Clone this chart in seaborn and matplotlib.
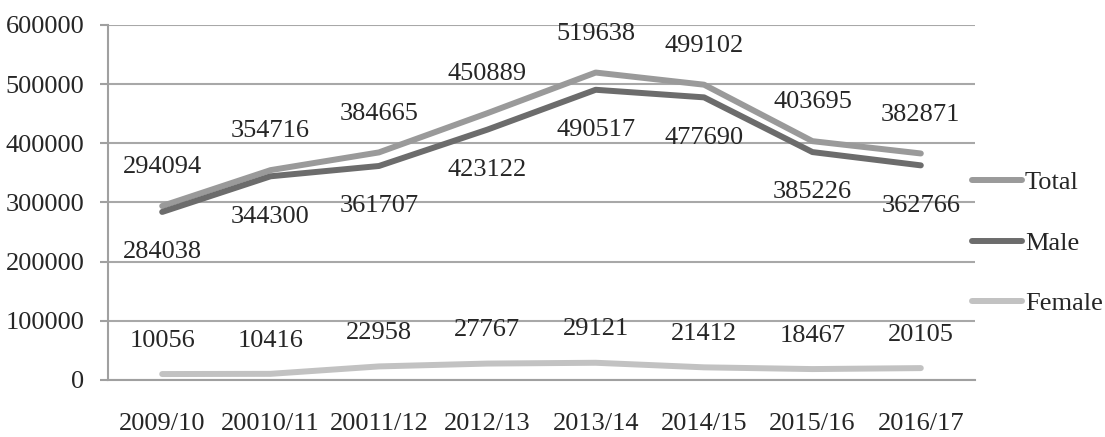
import pandas as pd
import seaborn as sns
import matplotlib.pyplot as plt

years = ['2009/10', '20010/11', '20011/12', '2012/13', '2013/14', '2014/15', '2015/16', '2016/17']
total = [294094, 354716, 384665, 450889, 519638, 499102, 403695, 382871]
male = [284038, 344300, 361707, 423122, 490517, 477690, 385226, 362766]
female = [10056, 10416, 22958, 27767, 29121, 21412, 18467, 20105]

series = ['Total', 'Male', 'Female']
colors = {'Total': '#9a9a9a', 'Male': '#6c6c6c', 'Female': '#c2c2c2'}

rows = []
for name, vals in zip(series, [total, male, female]):
    for i, (y, v) in enumerate(zip(years, vals)):
        rows.append({'year': y, 'pos': i, 'value': v, 'series': name})
df = pd.DataFrame(rows)

sns.set_style('white')
plt.rcParams['font.family'] = ['Liberation Serif', 'DejaVu Serif']
fs = 19

fig = plt.figure(figsize=(11.05, 4.37), dpi=100)
ax = fig.add_axes([108 / 1105, 57 / 437, 867 / 1105, 355 / 437])

sns.lineplot(data=df, x='pos', y='value', hue='series', hue_order=series,
             palette=colors, linewidth=4.3, solid_capstyle='round', ax=ax,
             sort=False, legend=False)

# data labels: Total and Female above, Male below
for name, vals, off in [('Total', total, 28), ('Male', male, -29), ('Female', female, 24)]:
    for i, v in enumerate(vals):
        ax.annotate(str(v), (i, v), xytext=(0, off), textcoords='offset points',
                    ha='center', va='center', fontsize=fs)

ax.set_xlim(-0.5, 7.5)
ax.set_ylim(0, 600000)
ax.set_yticks(range(0, 600001, 100000))
ax.set_yticklabels([str(v) for v in range(0, 600001, 100000)])
ax.set_xticks(range(len(years)))
ax.set_xticklabels(years)
ax.set_xticks([i - 0.5 for i in range(len(years) + 1)], minor=True)
ax.tick_params(axis='x', which='major', length=0, pad=24, labelsize=fs)
ax.tick_params(axis='x', which='minor', length=7, width=1.5, color='#a0a0a0', direction='out')
ax.tick_params(axis='y', length=6, width=1.5, color='#a0a0a0', pad=11, labelsize=fs, left=True)
ax.grid(axis='y', color='#a8a8a8', linewidth=1.5)
ax.set_axisbelow(True)
for s in ['top', 'right']:
    ax.spines[s].set_visible(False)
for s in ['left', 'bottom']:
    ax.spines[s].set_color('#a0a0a0')
    ax.spines[s].set_linewidth(1.5)
ax.set_xlabel('')
ax.set_ylabel('')

handles = [plt.Line2D([], [], color=colors[n], linewidth=4.3, solid_capstyle='round') for n in series]
fig.legend(handles, series, loc='center left', bbox_to_anchor=(972 / 1105, 194 / 437),
           frameon=False, fontsize=fs, handlelength=1.9, handletextpad=0.1,
           labelspacing=1.4, borderpad=0, borderaxespad=0)

fig.savefig('out.png', dpi=100)
